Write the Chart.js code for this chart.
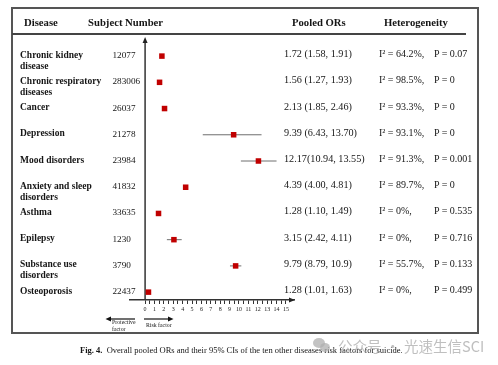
<!DOCTYPE html>
<html><head><meta charset="utf-8">
<script src="https://cdn.jsdelivr.net/npm/chart.js@4.4.1/dist/chart.umd.min.js"></script>
<style>
html,body{margin:0;padding:0;background:#fff;}
body{width:498px;height:365px;position:relative;overflow:hidden;font-family:"Liberation Serif","Times New Roman",serif;color:#151515;}
#c{position:absolute;left:0;top:0;}
.t{position:absolute;white-space:pre;}
.hd{font-weight:bold;font-size:10.7px;line-height:12px;}
.lab{font-weight:bold;font-size:9.5px;line-height:11px;}
.num{font-size:9.2px;line-height:11px;}
.or{font-size:10.2px;line-height:12px;}
.het{font-size:10px;line-height:12px;}
.small{font-size:5.8px;line-height:7px;}
.cap{font-size:8.5px;line-height:10px;}
#frame{position:absolute;left:11px;top:7px;width:468px;height:327px;border:2px solid #555;box-sizing:border-box;}
#hline{position:absolute;left:12px;top:33px;width:454px;height:1.5px;background:#444;}
.wm{position:absolute;font-family:"Noto Sans CJK SC","Noto Sans",sans-serif;font-size:14.5px;line-height:20px;color:rgba(170,170,170,0.75);white-space:pre;}
.bub{position:absolute;border-radius:50%;background:rgba(175,175,175,0.75);}
</style></head><body>
<canvas id="c" width="498" height="365"></canvas>
<div id="frame"></div>
<div id="hline"></div>
<div class="t hd" style="left:24px;top:15.5px;">Disease</div>
<div class="t hd" style="left:88px;top:15.5px;">Subject Number</div>
<div class="t hd" style="left:292px;top:15.5px;">Pooled ORs</div>
<div class="t hd" style="left:384px;top:15.5px;">Heterogeneity</div>
<svg style="position:absolute;left:0;top:0;" width="498" height="365">
  <line x1="135" y1="319" x2="109" y2="319" stroke="#111" stroke-width="1.2"/>
  <polygon points="105.5,319 111,316.6 111,321.4" fill="#111"/>
  <line x1="144" y1="319" x2="170" y2="319" stroke="#111" stroke-width="1.2"/>
  <polygon points="173.5,319 168,316.6 168,321.4" fill="#111"/>
</svg>
<div class="t small" style="left:112px;top:318.5px;">Protective
factor</div>
<div class="t small" style="left:146px;top:321.5px;">Risk factor</div>
<div class="t cap" style="left:80px;top:345px;"><b>Fig. 4.</b>  Overall pooled ORs and their 95% CIs of the ten other diseases risk factors for suicide.</div>
<div class="bub" style="left:313px;top:338px;width:12px;height:10px;"></div>
<div class="bub" style="left:320px;top:343px;width:10px;height:9px;"></div>
<div class="wm" style="left:338px;top:336px;">公众号<span style="margin:0 4px;">·</span>光速生信SCI</div>
<div id="texts"></div>
<script>
// ---- data ----
const diseases = ["Chronic kidney\ndisease", "Chronic respiratory\ndiseases", "Cancer", "Depression", "Mood disorders", "Anxiety and sleep\ndisorders", "Asthma", "Epilepsy", "Substance use\ndisorders", "Osteoporosis"];
const subjectNumbers = ["12077", "283006", "26037", "21278", "23984", "41832", "33635", "1230", "3790", "22437"];
const pooledORText = ["1.72 (1.58, 1.91)", "1.56 (1.27, 1.93)", "2.13 (1.85, 2.46)", "9.39 (6.43, 13.70)", "12.17(10.94, 13.55)", "4.39 (4.00, 4.81)", "1.28 (1.10, 1.49)", "3.15 (2.42, 4.11)", "9.79 (8.79, 10.9)", "1.28 (1.01, 1.63)"];
const i2Values = ["64.2%", "98.5%", "93.3%", "93.1%", "91.3%", "89.7%", "0%", "0%", "55.7%", "0%"];
const pValues = ["0.07", "0", "0", "0", "0.001", "0", "0.535", "0.716", "0.133", "0.499"];
// plotted positions as drawn in the figure
const plottedOR = [1.79, 1.54, 2.07, 9.43, 12.07, 4.32, 1.43, 3.07, 9.64, 0.36];
const plottedCILow = [null, null, null, 6.14, 10.2, null, null, 2.32, 9.04, null];
const plottedCIHigh = [null, null, null, 12.4, 14.0, null, null, 3.9, 10.25, null];
const xTicks = [0, 1, 2, 3, 4, 5, 6, 7, 8, 9, 10, 11, 12, 13, 14, 15];
const xMinorStep = 0.5;

const xMin = -1.607, xMax = 15.857;

const ciSets = plottedOR.map((v, i) => i).filter(i => plottedCILow[i] !== null).map(i => ({
  data: [{x: plottedCILow[i], y: i}, {x: plottedCIHigh[i], y: i}],
  showLine: true, borderColor: '#6e6e6e', borderWidth: 1, pointRadius: 0, order: 2
}));
const pointSet = {
  data: plottedOR.map((v, i) => ({x: v, y: i})),
  pointStyle: 'rect', pointRadius: 3.9, backgroundColor: '#c00000', borderWidth: 0, order: 1
};

const deco = {
  id: 'deco',
  beforeDatasetsDraw(chart) {
    const ctx = chart.ctx, a = chart.chartArea, xs = chart.scales.x;
    const x0 = xs.getPixelForValue(0);
    ctx.save();
    ctx.strokeStyle = '#333'; ctx.fillStyle = '#222'; ctx.lineWidth = 1.5;
    ctx.beginPath(); ctx.moveTo(x0, a.bottom); ctx.lineTo(x0, a.top + 4); ctx.stroke();
    ctx.beginPath(); ctx.moveTo(x0, a.top - 1); ctx.lineTo(x0 - 2.5, a.top + 5); ctx.lineTo(x0 + 2.5, a.top + 5); ctx.closePath(); ctx.fill();
    ctx.beginPath(); ctx.moveTo(a.right + 1, a.bottom); ctx.lineTo(a.right - 5, a.bottom - 2.5); ctx.lineTo(a.right - 5, a.bottom + 2.5); ctx.closePath(); ctx.fill();
    ctx.restore();
  }
};

const chart = new Chart(document.getElementById('c'), {
  type: 'scatter',
  data: {datasets: [pointSet, ...ciSets]},
  options: {
    responsive: false, animation: false, events: [],
    layout: {padding: {left: 130, right: 204, top: 38, bottom: 50}},
    plugins: {legend: {display: false}, tooltip: {enabled: false}},
    scales: {
      x: {
        type: 'linear', min: xMin, max: xMax, position: 'bottom',
        afterBuildTicks: s => {
          const t = [];
          for (let v = xTicks[0]; v <= xTicks[xTicks.length - 1] + 1e-9; v += xMinorStep) t.push({value: v});
          s.ticks = t;
        },
        afterFit: s => { s.height = 15; },
        grid: {drawOnChartArea: false, drawTicks: true, tickLength: 4, color: '#333', lineWidth: 1},
        border: {display: true, color: '#333', width: 1.4},
        ticks: {autoSkip: false, maxRotation: 0, minRotation: 0, padding: 2, color: '#222',
          font: {family: 'Liberation Serif', size: 6},
          callback: v => xTicks.includes(v) ? String(v) : ''}
      },
      y: {type: 'linear', min: -0.69, max: 9.3, reverse: true, display: false}
    }
  },
  plugins: [deco]
});

// ---- table text placed on the chart's row positions ----
const ys = chart.scales.y;
const box = document.getElementById('texts');
function put(txt, left, cy, cls, lh) {
  const d = document.createElement('div');
  d.className = 't ' + cls;
  d.style.left = left + 'px';
  d.style.top = (cy - lh / 2) + 'px';
  d.textContent = txt;
  box.appendChild(d);
}
diseases.forEach((name, i) => {
  const yc = ys.getPixelForValue(i);
  put(name, 20, yc - 1, 'lab', 11);
  put(subjectNumbers[i], 112.5, yc - 0.5, 'num', 11);
  put(pooledORText[i], 284, yc - 2, 'or', 12);
  put('I\u00B2 = ' + i2Values[i] + ',', 379, yc - 2, 'het', 12);
  put('P = ' + pValues[i], 434, yc - 2, 'het', 12);
});
</script>
</body></html>
